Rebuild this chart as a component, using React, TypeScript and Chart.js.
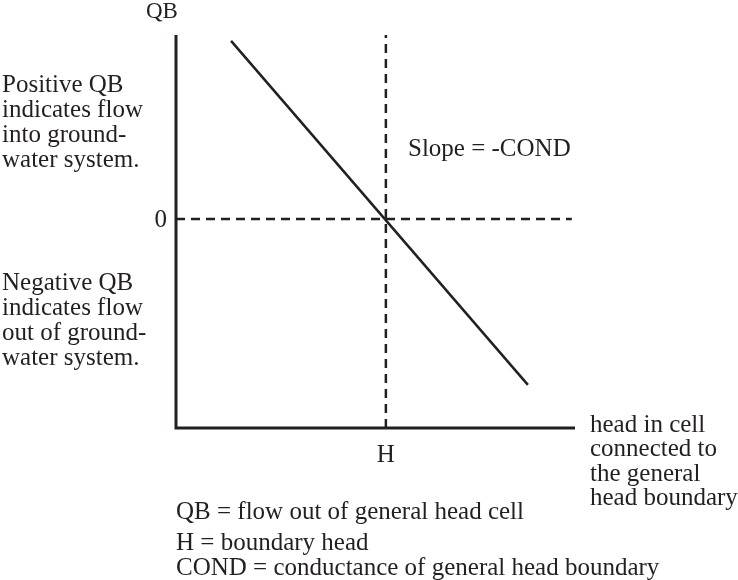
import React, { useEffect, useRef } from "react";
import { Chart, registerables } from "chart.js";

Chart.register(...registerables);

// Data domain (arbitrary units)
const xRange = [0, 10];
const yRange = [-10, 8.8];
const boundaryHead = 5.26; // H
const qbLineX = [1.38, 8.82];
const qbLineY = [8.52, -7.94];
const zeroLineEnd = 9.92;

// Texts
const yAxisTitle = "QB";
const positiveNote = ["Positive QB", "indicates flow", "into ground-", "water system."];
const negativeNote = ["Negative QB", "indicates flow", "out of ground-", "water system."];
const zeroTick = "0";
const hTick = "H";
const slopeLabel = "Slope = -COND";
const xAxisTitle = ["head in cell", "connected to", "the general", "head boundary"];
const legendLines = [
  "QB = flow out of general head cell",
  "H = boundary head",
  "COND = conductance of general head boundary",
];

const INK = "#231f20";
const FONT = "25px 'Liberation Serif', 'Times New Roman', serif";

const textPlugin = {
  id: "diagramText",
  afterDraw(chart: any) {
    const ctx = chart.ctx as CanvasRenderingContext2D;
    const xs = chart.scales.x;
    const ys = chart.scales.y;
    ctx.save();
    ctx.fillStyle = INK;
    ctx.font = FONT;
    ctx.textBaseline = "alphabetic";
    ctx.textAlign = "left";

    ctx.font = "23px 'Liberation Serif', serif";
    ctx.fillText(yAxisTitle, 146, 18);
    ctx.font = FONT;

    positiveNote.forEach((t, i) => ctx.fillText(t, 2, 92 + i * 25));
    negativeNote.forEach((t, i) => ctx.fillText(t, 2, 290 + i * 25));

    ctx.textAlign = "right";
    ctx.fillText(zeroTick, 167, ys.getPixelForValue(0) + 8);

    ctx.textAlign = "center";
    ctx.fillText(hTick, xs.getPixelForValue(boundaryHead), 462);

    ctx.textAlign = "left";
    ctx.fillText(slopeLabel, 408, 156);

    xAxisTitle.forEach((t, i) => ctx.fillText(t, 590, 432 + i * 24.4));

    const legendY = [519, 550, 575];
    legendLines.forEach((t, i) => ctx.fillText(t, 176, legendY[i]));
    ctx.restore();
  },
};

export default function App() {
  const ref = useRef<HTMLCanvasElement | null>(null);
  useEffect(() => {
    if (!ref.current) return;
    const chart = new Chart(ref.current, {
      type: "scatter",
      data: {
        datasets: [
          {
            label: "axes",
            data: [
              { x: xRange[0], y: yRange[1] },
              { x: xRange[0], y: yRange[0] },
              { x: xRange[1], y: yRange[0] },
            ],
            showLine: true,
            borderColor: INK,
            borderWidth: 3,
            pointRadius: 0,
            borderJoinStyle: "miter",
            clip: false,
          },
          {
            label: "QB",
            data: qbLineX.map((x, i) => ({ x, y: qbLineY[i] })),
            showLine: true,
            borderColor: INK,
            borderWidth: 2.5,
            pointRadius: 0,
            clip: false,
          },
          {
            label: "zero",
            data: [
              { x: xRange[0], y: 0 },
              { x: zeroLineEnd, y: 0 },
            ],
            showLine: true,
            borderColor: INK,
            borderWidth: 2.5,
            borderDash: [9, 6],
            pointRadius: 0,
            clip: false,
          },
          {
            label: "H",
            data: [
              { x: boundaryHead, y: yRange[0] },
              { x: boundaryHead, y: yRange[1] },
            ],
            showLine: true,
            borderColor: INK,
            borderWidth: 2.5,
            borderDash: [9, 6],
            pointRadius: 0,
            clip: false,
          },
        ],
      },
      options: {
        animation: false,
        responsive: false,
        maintainAspectRatio: false,
        layout: { padding: { left: 176, right: 163, top: 35, bottom: 152 } },
        plugins: { legend: { display: false }, tooltip: { enabled: false } },
        scales: {
          x: { type: "linear", display: false, min: xRange[0], max: xRange[1] },
          y: { type: "linear", display: false, min: yRange[0], max: yRange[1] },
        },
      },
      plugins: [textPlugin],
    } as any);
    return () => chart.destroy();
  }, []);
  return (
    <div style={{ position: "absolute", left: 0, top: 0, width: 738, height: 580, background: "#fff" }}>
      <canvas ref={ref} width={738} height={580} style={{ display: "block" }} />
    </div>
  );
}
